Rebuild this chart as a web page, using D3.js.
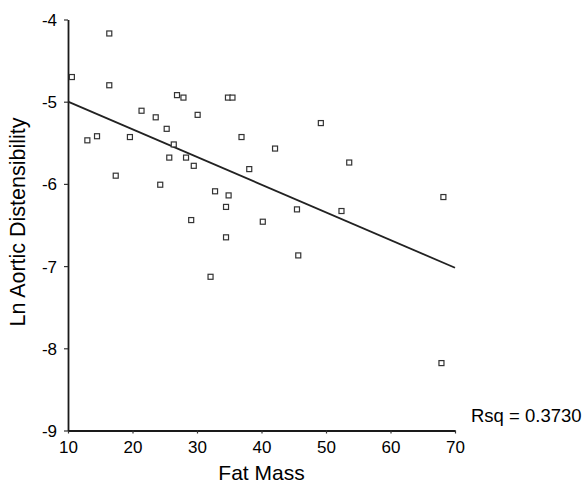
<!DOCTYPE html>
<html>
<head>
<meta charset="utf-8">
<script src="https://cdn.jsdelivr.net/npm/d3@7"></script>
<style>
  html, body { margin: 0; padding: 0; background: #fff; }
  svg { display: block; font-family: "Liberation Sans", Arial, Helvetica, sans-serif; }
</style>
</head>
<body>
<svg id="chart" width="588" height="485"></svg>
<script>
// Fat mass (x) and log aortic distensibility (y) for each subject
const fatMass = [
  10.6, 16.4, 16.4, 13.0, 14.5, 17.4, 19.6, 21.4, 23.6, 25.3,
  25.7, 24.3, 26.4, 26.9, 27.9, 28.3, 29.5, 30.1, 29.1, 32.1,
  32.8, 34.9, 34.5, 34.5, 34.8, 35.5, 36.9, 38.1, 40.2, 42.1,
  45.5, 45.7, 49.2, 52.4, 53.6, 68.2, 67.9
];
const lnDistensibility = [
  -4.70, -4.17, -4.80, -5.47, -5.42, -5.90, -5.43, -5.11, -5.19, -5.33,
  -5.68, -6.01, -5.52, -4.92, -4.95, -5.68, -5.78, -5.16, -6.44, -7.13,
  -6.09, -6.14, -6.28, -6.65, -4.95, -4.95, -5.43, -5.82, -6.46, -5.57,
  -6.31, -6.87, -5.26, -6.33, -5.74, -6.16, -8.18
];

// Least-squares fit line and its R-squared
const fitIntercept = -4.663;
const fitSlope = -0.03367;
const rSquared = "0.3730";

const xTicks = [10, 20, 30, 40, 50, 60, 70];
const yTicks = [-9, -8, -7, -6, -5, -4];

const svg = d3.select("#chart");
const plotLeft = 68, plotRight = 455, plotTop = 19.5, plotBottom = 430.5;

const x = d3.scaleLinear().domain([10, 70]).range([plotLeft, plotRight]);
const y = d3.scaleLinear().domain([-9, -4]).range([plotBottom, plotTop]);

// Axes
const xAxis = svg.append("g")
  .attr("transform", `translate(0,${plotBottom})`)
  .call(d3.axisBottom(x).tickValues(xTicks).tickSize(3).tickPadding(5).tickSizeOuter(0));
const yAxis = svg.append("g")
  .attr("transform", `translate(${plotLeft},0)`)
  .call(d3.axisLeft(y).tickValues(yTicks).tickSize(4).tickPadding(7).tickSizeOuter(0)
    .tickFormat(d => d3.format("d")(d).replace("−", "-")));

[xAxis, yAxis].forEach(g => {
  g.select(".domain").attr("stroke", "#1a1a1a").attr("stroke-width", 1.8);
  g.selectAll(".tick line").attr("stroke", "#333").attr("stroke-width", 1.2);
  g.selectAll(".tick text").attr("fill", "#000").style("font-size", "17px")
    .style("font-family", "'Liberation Sans', Arial, sans-serif");
});
xAxis.selectAll(".tick text").attr("dy", "0.85em");
yAxis.selectAll(".tick text").attr("dy", "0.35em");

// Regression line
const fitLine = d3.line().x(d => x(d)).y(d => y(fitIntercept + fitSlope * d));
svg.append("path")
  .datum([10, 70])
  .attr("d", fitLine)
  .attr("fill", "none")
  .attr("stroke", "#222")
  .attr("stroke-width", 1.8);

// Observations as small open squares
const pts = fatMass.map((v, i) => ({ fm: v, ld: lnDistensibility[i] }));
const s = 5;
svg.append("g").selectAll("rect")
  .data(pts)
  .join("rect")
  .attr("x", d => x(d.fm) - s / 2)
  .attr("y", d => y(d.ld) - s / 2)
  .attr("width", s)
  .attr("height", s)
  .attr("fill", "#fff")
  .attr("stroke", "#333")
  .attr("stroke-width", 1.2);

// Axis titles
svg.append("text")
  .attr("x", (plotLeft + plotRight) / 2)
  .attr("y", 480)
  .attr("text-anchor", "middle")
  .style("font-size", "21px")
  .text("Fat Mass");

svg.append("text")
  .attr("transform", `translate(25,${(plotTop + plotBottom) / 2 - 3}) rotate(-90)`)
  .attr("text-anchor", "middle")
  .style("font-size", "21.5px")
  .text("Ln Aortic Distensibility");

// Fit statistic
svg.append("text")
  .attr("x", 471)
  .attr("y", 422)
  .style("font-size", "18.5px")
  .text("Rsq = " + rSquared);
</script>
</body>
</html>
